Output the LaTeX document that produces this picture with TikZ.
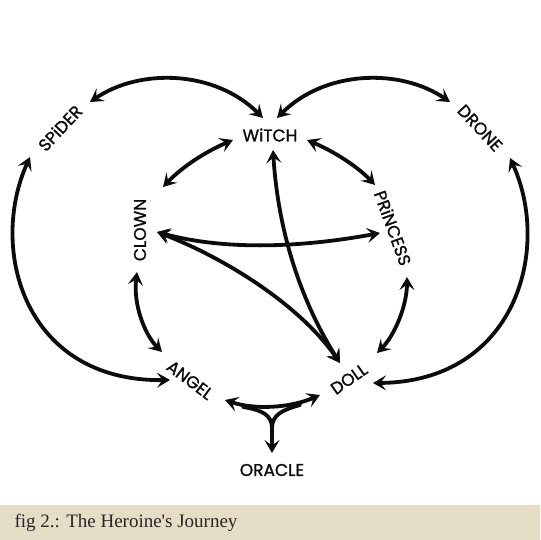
\documentclass[tikz,border=0pt]{standalone}
\usepackage{fontspec}
\usetikzlibrary{arrows.meta}
\newfontfamily\decofont{Poppins}[FakeBold=1.2]
\newfontfamily\capfont{Liberation Serif}
\definecolor{captionbg}{RGB}{230,221,199}
\definecolor{captionedge}{RGB}{196,184,156}
\definecolor{inkblack}{RGB}{12,12,12}
\pgfdeclareradialshading{vignette}{\pgfpoint{0bp}{0bp}}{color(0bp)=(white); color(40bp)=(white); color(72bp)=(black!20)}
\pgfdeclarehorizontalshading{captionstrip}{100bp}{color(0bp)=(captionedge); color(8bp)=(captionbg); color(92bp)=(captionbg); color(100bp)=(captionedge)}

\begin{document}
\begin{tikzpicture}[
    x=1pt, y=-1pt,
    >={Stealth[length=13pt, width=15pt, inset=5.5pt]},
    role/.style={inner sep=0pt, font=\decofont\fontsize{17}{17}\selectfont, text=inkblack},
    link/.style={<->, line width=3.8pt, draw=inkblack},
    oneway/.style={->, line width=3.8pt, draw=inkblack},
    plain/.style={line width=3.8pt, draw=inkblack, line cap=round}
]
\useasboundingbox (0,0) rectangle (540,540);

% paper and caption strip
\shade[shading=vignette] (0,0) rectangle (540,505);
\shade[shading=captionstrip] (0,505) rectangle (540,540);
\node[anchor=west, font=\capfont\fontsize{19}{19}\selectfont, text=black!85] (caption) at (11,523) {fig 2.: The Heroine's Journey};

% the eight roles
\node[role, rotate=47] (spider) at (60,128) {SPiDER};
\node[role] (witch) at (270,135) {WiTCH};
\node[role, rotate=-47] (drone) at (480,128) {DRONE};
\node[role, rotate=90] (clown) at (140,230) {CLOWN};
\node[role, rotate=-70] (princess) at (393,228) {PRiNCESS};
\node[role, rotate=-37] (angel) at (190,380) {ANGEL};
\node[role, rotate=35] (doll) at (349,379) {DOLL};
\node[role] (oracle) at (272,470) {ORACLE};

% outer arcs
\draw[link] ([shift={(30,-26)}]spider.center) .. controls (140,68) and (215,70) .. ([shift={(-7,-17)}]witch.center);
\draw[link] ([shift={(7,-17)}]witch.center) .. controls (325,70) and (400,68) .. ([shift={(-30,-26)}]drone.center);
\draw[link] ([shift={(-30,29)}]spider.center) .. controls (-12,250) and (25,382) .. ([shift={(-20,0)}]angel.center);
\draw[link] ([shift={(30,30)}]drone.center) .. controls (552,250) and (515,382) .. ([shift={(24,4)}]doll.center);

% inner ring
\draw[link] ([shift={(-37,5)}]witch.center) .. controls (207,151) and (183,166) .. ([shift={(23,-43)}]clown.center);
\draw[link] ([shift={(37,5)}]witch.center) .. controls (333,151) and (357,166) .. ([shift={(-18,-43)}]princess.center);
\draw[link] ([shift={(-3,42)}]clown.center) .. controls (133,305) and (145,335) .. ([shift={(-28,-28)}]angel.center);
\draw[link] ([shift={(14,49)}]princess.center) .. controls (407,305) and (395,335) .. ([shift={(28,-26)}]doll.center);

% the cross lines
\draw[link] ([shift={(17,2)}]clown.center) .. controls (230,252) and (310,246) .. ([shift={(-13,5)}]princess.center);
\draw[link] ([shift={(17,2)}]clown.center) .. controls (225,258) and (300,305) .. ([shift={(-9,-16)}]doll.center);
\draw[link] ([shift={(3,15)}]witch.center) .. controls (278,230) and (300,300) .. ([shift={(-9,-16)}]doll.center);

% fork down to the oracle
\coordinate (fork) at (272,428);
\draw[link] ([shift={(35,20)}]angel.center) .. controls (255,410) and (290,408) .. ([shift={(-29,16)}]doll.center);
\draw[plain] (243,407) .. controls (262,410) and (272,415) .. (fork);
\draw[plain] (300,405) .. controls (282,410) and (272,415) .. (fork);
\draw[oneway] (fork) -- ([shift={(0,-17)}]oracle.center);

\end{tikzpicture}
\end{document}
